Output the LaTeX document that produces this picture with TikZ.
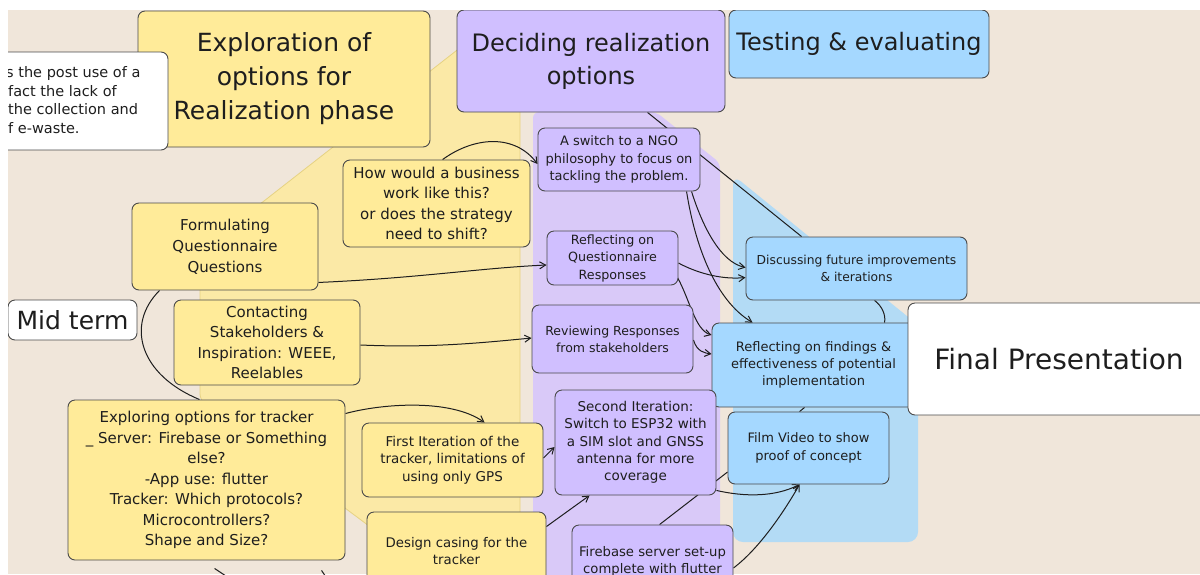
\documentclass[tikz,border=0pt]{standalone}
\usepackage{fontspec}
\setmainfont{DejaVu Sans}
\usetikzlibrary{arrows.meta,calc}
\definecolor{bgbeige}{HTML}{F0E6DA}
\definecolor{ylbox}{HTML}{FFEB99}
\definecolor{ylreg}{HTML}{FBE9A6}
\definecolor{yledge}{HTML}{E6D283}
\definecolor{pubox}{HTML}{D0BFFF}
\definecolor{pureg}{HTML}{D9C9F8}
\definecolor{blbox}{HTML}{A5D8FF}
\definecolor{blreg}{HTML}{B3DBF5}
\definecolor{ink}{HTML}{1E1E1E}
\definecolor{edgegray}{HTML}{4A4A4A}
\pgfdeclarelayer{bg}
\pgfdeclarelayer{edges}
\pgfsetlayers{bg,edges,main}
\begin{document}
\begin{tikzpicture}[x=1pt,y=-1pt,
  card/.style 2 args={draw=edgegray, line width=0.9pt, rounded corners=7pt, inner sep=0pt,
    align=center, text=ink, minimum width=#1pt, minimum height=#2pt},
  ftitle/.style={font=\fontsize{25}{34}\selectfont},
  fhead/.style={font=\fontsize{24}{33}\selectfont},
  fmid/.style={font=\fontsize{15}{20.5}\selectfont},
  fsmall/.style={font=\fontsize{13}{17.3}\selectfont},
  conn/.style={draw=ink, line width=1pt},
  arr/.style={conn, -{Straight Barb[length=6pt,width=7pt]}}]
\useasboundingbox (0,0) rectangle (1200,574);

\begin{pgfonlayer}{bg}
  \fill[white] (0,0) rectangle (1200,574);
  \fill[bgbeige] (8,10) rectangle (1200,574);
  \clip (8,10) rectangle (1200,574);
  \filldraw[fill=ylreg, draw=yledge, line width=0.8pt, rounded corners=6pt]
    (200,251) -- (470,40) -- (520,40) -- (520,590) -- (455,590) -- (200,400) -- cycle;
  \fill[pureg, rounded corners=6pt]
    (533,112) -- (656,112) -- (720,163) -- (720,590) -- (533,590) -- cycle;
  \fill[blreg, rounded corners=10pt]
    (733,175) -- (918,325) -- (918,542) -- (733,542) -- cycle;
\end{pgfonlayer}

\begin{scope}
\clip (8,10) rectangle (1200,574);
\node[card={292}{136}, fill=ylbox, ftitle] (explo) at (284,79)
  {Exploration of\\options for\\Realization phase};
\node[card={228}{98}, fill=white] (note) at (54,101) {};
\node[text=ink, align=left, anchor=west, inner sep=0pt,
  font=\fontsize{14.5}{18.7}\selectfont] (notetext) at (6,100)
  {s the post use of a\\\hspace*{2pt}fact the lack of\\\hspace*{2pt}the collection and\\\hspace*{2pt}f e-waste.};
\node[card={268}{102}, fill=pubox, fhead] (decide) at (591,61)
  {Deciding realization\\options};
\node[card={260}{68}, fill=blbox, fhead] (test) at (859,44)
  {Testing \& evaluating};
\node[card={187}{87}, fill=ylbox, fmid] (how) at (436.5,203.5)
  {How would a business\\work like this?\\or does the strategy\\need to shift?};
\node[card={162}{63}, fill=pubox, font=\fontsize{13}{17.5}\selectfont] (switch) at (619,159.5)
  {A switch to a NGO\\philosophy to focus on\\tackling the problem.};
\node[card={186}{87}, fill=ylbox, font=\fontsize{15}{21}\selectfont] (formq) at (225,246.5)
  {Formulating\\Questionnaire\\Questions};
\node[card={131}{54}, fill=pubox, font=\fontsize{12.7}{17.5}\selectfont] (reflq) at (612.5,258)
  {Reflecting on\\Questionnaire\\Responses};
\node[card={221}{63}, fill=blbox, font=\fontsize{12.3}{17}\selectfont] (discuss) at (856.5,268.5)
  {Discussing future improvements\\\& iterations};
\node[card={129}{40}, fill=white, ftitle] (mid) at (72.5,320) {Mid term};
\node[card={186}{85}, fill=ylbox, fmid] (contact) at (267,342.5)
  {Contacting\\Stakeholders \&\\Inspiration: WEEE,\\Reelables};
\node[card={161}{68}, fill=pubox, font=\fontsize{12.5}{17}\selectfont] (review) at (612.5,339)
  {Reviewing Responses\\from stakeholders};
\node[card={203}{84}, fill=blbox, font=\fontsize{13}{17}\selectfont] (reflf) at (813.5,365)
  {Reflecting on findings \&\\effectiveness of potential\\implementation};
\node[card={302}{112}, fill=white, font=\fontsize{28}{34}\selectfont] (final) at (1059,359)
  {Final Presentation};
\node[card={277}{160}, fill=ylbox, fmid] (explore) at (206.5,480)
  {Exploring options for tracker\\\_ Server: Firebase or Something\\else?\\-App use: flutter\\Tracker: Which protocols?\\Microcontrollers?\\Shape and Size?};
\node[card={181}{74}, fill=ylbox, font=\fontsize{13.5}{17.5}\selectfont] (first) at (452.5,460)
  {First Iteration of the\\tracker, limitations of\\using only GPS};
\node[card={161}{105}, fill=pubox, font=\fontsize{13.5}{17.3}\selectfont] (second) at (635.5,442.5)
  {Second Iteration:\\Switch to ESP32 with\\a SIM slot and GNSS\\antenna for more\\coverage};
\node[card={161}{72}, fill=blbox, fsmall] (film) at (808.5,448)
  {Film Video to show\\proof of concept};
\node[card={179}{79}, fill=ylbox, font=\fontsize{13.3}{17}\selectfont] (design) at (456.5,551.5)
  {Design casing for the\\tracker};
\node[card={161}{72}, fill=pubox, font=\fontsize{13.2}{17}\selectfont] (fire) at (652.5,561)
  {Firebase server set-up\\complete with flutter};
\end{scope}

\begin{pgfonlayer}{edges}
  \clip (8,10) rectangle (1200,574);
  \draw[conn] ($(decide.south west)+(191,0)$) -- ($(discuss.north west)+(56,0)$);
  \draw[arr] ($(how.north west)+(100,0)$) .. controls (475,136) and (515,134) .. ($(switch.west)+(0,4.5)$);
  \draw[arr] ($(formq.south east)+(0,-8)$) .. controls (420,278) and (480,268) .. ($(reflq.west)+(0,7)$);
  \draw[arr] ($(contact.east)+(0,2.5)$) .. controls (430,348) and (480,343) .. ($(review.west)+(0,-1)$);
  \draw[conn] ($(formq.south west)+(28,0)$) .. controls (125,325) and (140,375) .. ($(explore.north west)+(132,0)$);
  \draw[arr] ($(explore.north east)+(0,14)$) .. controls (380,404) and (450,398) .. ($(first.north west)+(123,0)$);
  \draw[arr] ($(first.east)+(0,-2)$) -- ($(second.west)+(0,4.5)$);
  \draw[arr] ($(design.north east)+(0,15)$) -- ($(second.south west)+(35,0)$);
  \draw[conn] ($(fire.north west)+(88,0)$) -- ($(film.west)+(0,24)$);
  \draw[arr] ($(second.south east)+(0,-5)$) .. controls (745,497) and (775,497) .. ($(film.south west)+(72,0)$);
  \draw[arr] ($(fire.east)+(0,7)$) .. controls (760,548) and (785,510) .. ($(film.south west)+(72,0)$);
  \draw[conn] ($(reflf.south west)+(93,0)$) -- ($(film.north west)+(72,0)$);
  \draw[conn] ($(discuss.south west)+(129,0)$) .. controls (882,306) and (886,315) .. ($(reflf.north west)+(173,0)$);
  \draw[arr] ($(switch.south west)+(149,0)$) .. controls (695,245) and (715,300) .. ($(reflf.north west)+(41,0)$);
  \draw[arr] ($(switch.south west)+(154,0)$) .. controls (702,225) and (720,262) .. ($(discuss.west)+(0,-1)$);
  \draw[arr] ($(reflq.east)+(0,5)$) .. controls (695,272) and (720,280) .. ($(discuss.west)+(0,9)$);
  \draw[arr] ($(reflq.south east)+(-1,-8)$) .. controls (690,300) and (695,330) .. ($(reflf.west)+(0,-30)$);
  \draw[arr] ($(review.east)+(0,1)$) .. controls (697,352) and (705,353) .. ($(reflf.west)+(0,-11)$);
  \coordinate (offA) at (250,592);
  \coordinate (offB) at (336,592);
  \draw[conn] ($(explore.south west)+(147,8)$) -- (offA);
  \draw[conn] ($(explore.south west)+(254,10)$) -- (offB);
\end{pgfonlayer}
\end{tikzpicture}
\end{document}
